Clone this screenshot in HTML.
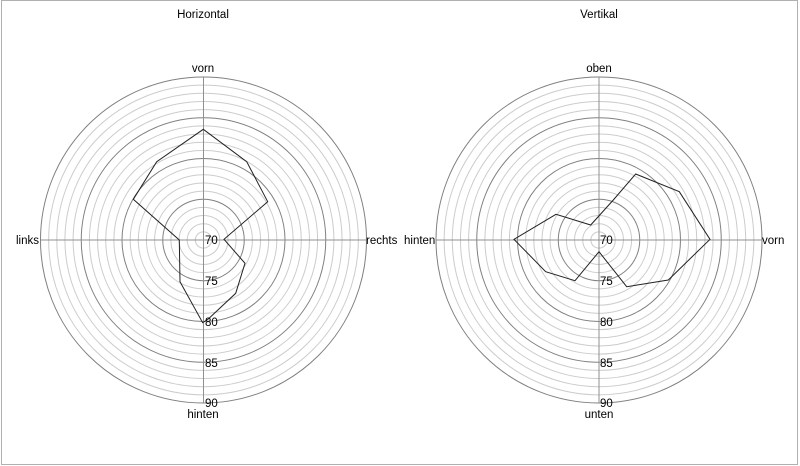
<!DOCTYPE html>
<html><head><meta charset="utf-8"><style>
html,body{margin:0;padding:0;background:#fff;}
svg{display:block;}
text{font-family:"Liberation Sans",sans-serif;font-size:11.5px;fill:#000;}
</style></head><body>
<svg width="800" height="466" viewBox="0 0 800 466" xmlns="http://www.w3.org/2000/svg">
<rect x="0" y="0" width="800" height="466" fill="#fff"/>
<rect x="1.5" y="0.5" width="796" height="464" fill="none" stroke="#b0b0b0"/>
<g id="grid" fill="none">
</g>
<script>
(function(){
 var ns="http://www.w3.org/2000/svg",g=document.getElementById('grid');
 [203.5,599].forEach(function(cx){
  for(var i=1;i<=20;i++){
   var c=document.createElementNS(ns,'circle');
   c.setAttribute('cx',cx);c.setAttribute('cy',240);c.setAttribute('r',(i*8.15).toFixed(2));
   c.setAttribute('stroke',i%5==0?'#808080':'#cccccc');c.setAttribute('stroke-width','1');
   g.appendChild(c);
  }
  var l1=document.createElementNS(ns,'line');
  l1.setAttribute('x1',cx-163);l1.setAttribute('x2',cx+163);l1.setAttribute('y1',240);l1.setAttribute('y2',240);l1.setAttribute('stroke','#909090');g.appendChild(l1);
  var l2=document.createElementNS(ns,'line');
  l2.setAttribute('x1',cx);l2.setAttribute('x2',cx);l2.setAttribute('y1',77);l2.setAttribute('y2',403);l2.setAttribute('stroke','#909090');g.appendChild(l2);
 });
})();
</script>
<polygon fill="none" stroke="#222" stroke-width="1" points="203.3,129.3 246.7,161.7 267.7,201.7 224,239.3 245,263.3 235.7,293.3 208.3,319 202.7,322.7 180,281.7 179.3,240 133.3,199.3 156.7,161.7"/>
<polygon fill="none" stroke="#222" stroke-width="1" points="635.7,174 679.3,191.7 710,239.3 668.3,280 626.7,286.7 599,251.7 575,280.7 545.7,271.7 514,239.3 556,214.3 590.7,225 613.3,200"/>
<text x="203" y="18" text-anchor="middle" font-size="13">Horizontal</text>
<text x="599" y="18" text-anchor="middle" font-size="13">Vertikal</text>
<g text-anchor="middle">
<text x="203" y="72">vorn</text>
<text x="203" y="418">hinten</text>
<text x="599" y="72">oben</text>
<text x="599" y="418">unten</text>
</g>
<text x="16" y="244">links</text>
<text x="366" y="244">rechts</text>
<text x="404" y="244">hinten</text>
<text x="762" y="244">vorn</text>
<g>
<text x="205" y="244">70</text><text x="205" y="285">75</text><text x="205" y="326">80</text><text x="205" y="367">85</text><text x="205" y="407">90</text>
<text x="600" y="244">70</text><text x="600" y="285">75</text><text x="600" y="326">80</text><text x="600" y="367">85</text><text x="600" y="407">90</text>
</g>
</svg>
</body></html>
